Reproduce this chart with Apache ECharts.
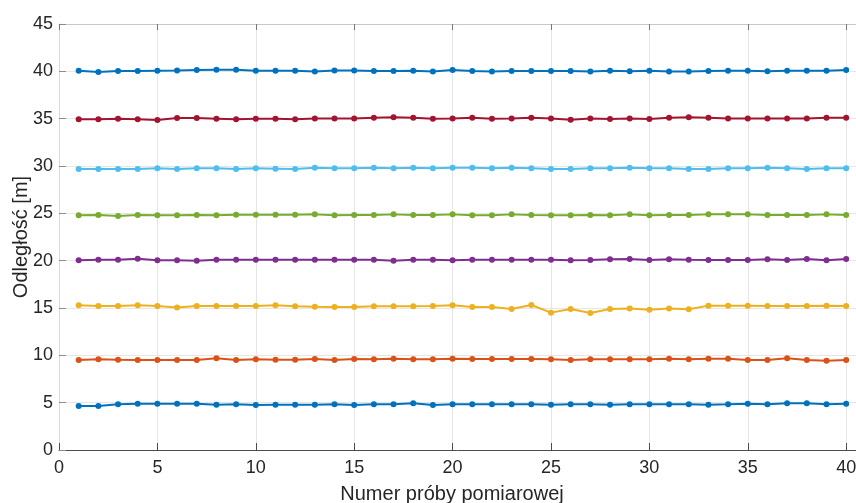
<!DOCTYPE html>
<html>
<head>
<meta charset="utf-8">
<script src="https://cdn.jsdelivr.net/npm/echarts@6/dist/echarts.min.js"></script>
<style>html,body{margin:0;padding:0;background:#fff}#c{width:856px;height:503px}</style>
</head>
<body>
<div id="c"></div>
<script>
const xVals = [1,2,3,4,5,6,7,8,9,10,11,12,13,14,15,16,17,18,19,20,21,22,23,24,25,26,27,28,29,30,31,32,33,34,35,36,37,38,39,40];
const s5 = [4.65,4.65,4.82,4.89,4.89,4.89,4.89,4.79,4.82,4.75,4.79,4.79,4.79,4.82,4.75,4.82,4.82,4.93,4.75,4.82,4.82,4.82,4.82,4.82,4.79,4.82,4.82,4.79,4.82,4.82,4.82,4.82,4.79,4.82,4.89,4.82,4.93,4.93,4.82,4.89];
const s10 = [9.51,9.58,9.54,9.51,9.51,9.51,9.51,9.68,9.51,9.58,9.54,9.54,9.61,9.51,9.61,9.58,9.65,9.58,9.58,9.65,9.61,9.61,9.61,9.61,9.58,9.51,9.58,9.58,9.58,9.58,9.65,9.58,9.65,9.65,9.51,9.51,9.68,9.51,9.44,9.51];
const s15 = [15.28,15.21,15.21,15.28,15.21,15.04,15.21,15.21,15.21,15.21,15.28,15.19,15.14,15.11,15.11,15.18,15.18,15.18,15.21,15.28,15.11,15.11,14.89,15.32,14.51,14.89,14.47,14.89,14.96,14.82,14.96,14.86,15.25,15.25,15.25,15.21,15.21,15.21,15.25,15.21];
const s20 = [20.04,20.10,20.10,20.21,20.04,20.04,20.00,20.10,20.10,20.10,20.10,20.10,20.10,20.10,20.10,20.10,20.00,20.10,20.10,20.04,20.10,20.10,20.10,20.10,20.10,20.04,20.07,20.14,20.18,20.07,20.14,20.10,20.07,20.07,20.07,20.14,20.07,20.18,20.04,20.18];
const s25 = [24.79,24.82,24.72,24.82,24.79,24.79,24.82,24.79,24.86,24.86,24.86,24.84,24.89,24.79,24.82,24.82,24.89,24.82,24.82,24.89,24.79,24.79,24.89,24.82,24.79,24.79,24.82,24.79,24.89,24.79,24.82,24.82,24.89,24.89,24.89,24.82,24.82,24.82,24.89,24.82];
const s30 = [29.68,29.68,29.68,29.68,29.75,29.68,29.75,29.75,29.68,29.75,29.72,29.68,29.82,29.75,29.75,29.82,29.75,29.82,29.75,29.82,29.82,29.75,29.82,29.75,29.68,29.68,29.75,29.75,29.82,29.75,29.75,29.68,29.68,29.75,29.75,29.82,29.75,29.68,29.75,29.75];
const s35 = [34.93,34.93,35.00,34.93,34.86,35.07,35.07,35.00,34.93,35.00,35.00,34.93,35.03,35.03,35.03,35.10,35.14,35.10,35.00,35.03,35.10,35.00,35.03,35.10,35.03,34.88,35.03,34.96,35.03,34.96,35.10,35.14,35.10,35.03,35.03,35.03,35.03,35.03,35.10,35.10];
const s40 = [40.07,39.93,40.03,40.03,40.07,40.10,40.14,40.17,40.17,40.07,40.07,40.07,39.97,40.10,40.10,40.03,40.03,40.07,39.97,40.14,40.03,39.97,40.03,40.03,40.03,40.03,39.97,40.07,40.00,40.07,39.97,39.97,40.03,40.07,40.07,40.00,40.07,40.07,40.07,40.14];

const seriesValues = [s5, s10, s15, s20, s25, s30, s35, s40];
const seriesColors = ['#0072BD','#D95319','#EDB120','#7E2F8E','#77AC30','#4DBEEE','#A2142F','#0072BD'];

const xTitle = 'Numer próby pomiarowej';
const yTitle = 'Odległość [m]';

const font = "'Liberation Sans', Arial, Helvetica, sans-serif";
const chart = echarts.init(document.getElementById('c'), null, {renderer: 'canvas'});

const series = seriesValues.map((vals, i) => ({
  type: 'line',
  data: vals.map((v, k) => [xVals[k], v]),
  xAxisIndex: 0,
  yAxisIndex: 0,
  symbol: 'circle',
  symbolSize: 6,
  showSymbol: true,
  lineStyle: {width: 2, color: seriesColors[i]},
  itemStyle: {color: seriesColors[i]},
  animation: false,
  z: 3
}));

chart.setOption({
  animation: false,
  backgroundColor: '#fff',
  grid: {left: 59, top: 24, right: 0, bottom: 53, containLabel: false, outerBoundsMode: 'none'},
  xAxis: [{
    type: 'value', min: 0, max: 40.5, interval: 5, position: 'bottom',
    name: xTitle, nameLocation: 'middle', nameGap: 34,
    nameTextStyle: {fontFamily: font, fontSize: 20, color: '#262626', padding: [0, 11, 0, 0]},
    axisLine: {show: true, lineStyle: {color: '#4d4d4d', width: 1}},
    axisTick: {show: true, inside: true, length: 7, lineStyle: {color: '#4d4d4d'}},
    axisLabel: {fontFamily: font, fontSize: 18, color: '#262626', margin: 9,
      formatter: v => (Math.abs(v % 5) < 1e-9 ? String(v) : '')},
    splitLine: {show: true, lineStyle: {color: '#e6e6e6', width: 1}}
  }, {
    type: 'value', min: 0, max: 40.5, interval: 5, position: 'top',
    axisLine: {show: true, lineStyle: {color: '#c8c8c8', width: 1}},
    axisTick: {show: true, inside: true, length: 6, lineStyle: {color: '#777'}},
    axisLabel: {show: false},
    splitLine: {show: false}
  }],
  yAxis: [{
    type: 'value', min: 0, max: 45, interval: 5,
    name: yTitle, nameLocation: 'middle', nameGap: 28, nameRotate: 90,
    nameMoveOverlap: false,
    nameTextStyle: {fontFamily: font, fontSize: 20, color: '#262626'},
    axisLine: {show: true, lineStyle: {color: '#d9d9d9', width: 1}},
    axisTick: {show: true, inside: true, length: 7, lineStyle: {color: '#8c8c8c'}},
    axisLabel: {fontFamily: font, fontSize: 18, color: '#262626', margin: 6},
    splitLine: {show: true, lineStyle: {color: '#e6e6e6', width: 1}}
  }],
  series: series
});
</script>
</body>
</html>
